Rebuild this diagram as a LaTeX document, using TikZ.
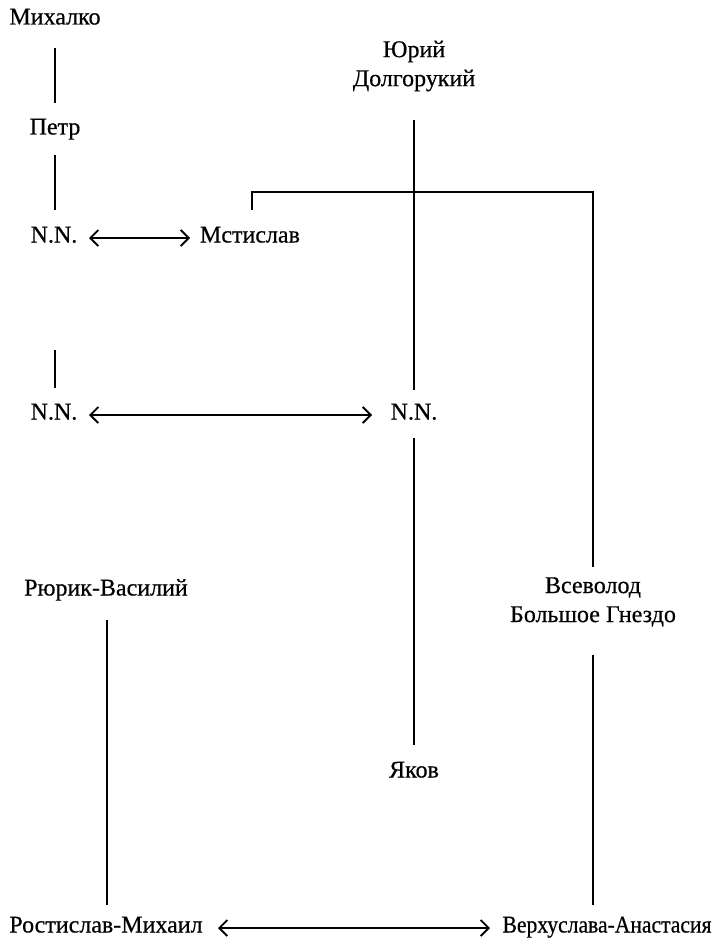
\documentclass[tikz,border=0pt]{standalone}
\usepackage{fontspec}
\setmainfont[FakeBold=0.5]{Liberation Serif}
\usetikzlibrary{arrows.meta}
\begin{document}
\begin{tikzpicture}[x=1pt,y=-1pt,
  lbl/.style={inner sep=0pt,font=\fontsize{24}{29}\selectfont,align=center},
  one/.style={lbl,text height=16pt,text depth=5pt},
  conn/.style={line width=1.8pt},
  tip/.tip={Straight Barb[length=8pt,width=16pt,line width=1.8pt]},
  dbl/.style={line width=2pt,tip-tip}]
\useasboundingbox (0,0) rectangle (716,947);
\node[one] (mikh) at (55,19) {Михалко};
\node[one] (petr) at (55,129) {Петр};
\node[one] (nn1) at (54,237) {N.N.};
\node[one] (mst) at (250,237) {Мстислав};
\node[lbl] (yuri) at (414,66) {Юрий\\Долгорукий};
\node[one] (nn3) at (54,414) {N.N.};
\node[one] (nn2) at (414,414) {N.N.};
\node[one] (rurik) at (106,590) {Рюрик-Василий};
\node[lbl] (vsev) at (593,602) {Всеволод\\Большое Гнездо};
\node[one] (yakov) at (414,772) {Яков};
\node[one] (rost) at (106,927) {Ростислав-Михаил};
\node[one] (verkh) at (607,927) {\scalebox{0.9}[1]{Верхуслава-Анастасия}};
\coordinate (top3) at (55,350);
\coordinate (jr) at (593,192);
% lines
\draw[conn, shorten <=29pt, shorten >=26pt] (mikh.center) -- (petr.center);
\draw[conn, shorten <=26pt, shorten >=27pt] (petr.center) -- (petr.center |- nn1.center);
\draw[dbl, shorten <=35pt, shorten >=60pt] ([yshift=-1pt]nn1.center) -- ([yshift=-1pt]mst.center);
\draw[conn, shorten >=35pt] ([xshift=2pt,yshift=27pt]mst.center) |- (jr) -- (vsev.center);
\draw[conn, shorten <=54pt, shorten >=24pt] (yuri.center) -- (nn2.center);
\draw[conn, shorten <=24pt, shorten >=27pt] (nn2.center) -- (yakov.center);
\draw[conn, shorten >=26pt] (top3) -- (top3 |- nn3.center);
\draw[dbl, shorten <=35pt, shorten >=42pt] ([yshift=-1pt]nn3.center) -- ([yshift=-1pt]nn2.center);
\draw[conn, shorten <=30pt, shorten >=22pt] ([xshift=1pt]rurik.center) -- ([xshift=1pt]rurik.center |- rost.center);
\draw[conn, shorten <=53pt, shorten >=22pt] (vsev.center) -- (vsev.center |- verkh.center);
\draw[dbl, shorten <=112pt, shorten >=117pt] ([yshift=-1pt]rost.center) -- ([yshift=-1pt]verkh.center);
\end{tikzpicture}
\end{document}
